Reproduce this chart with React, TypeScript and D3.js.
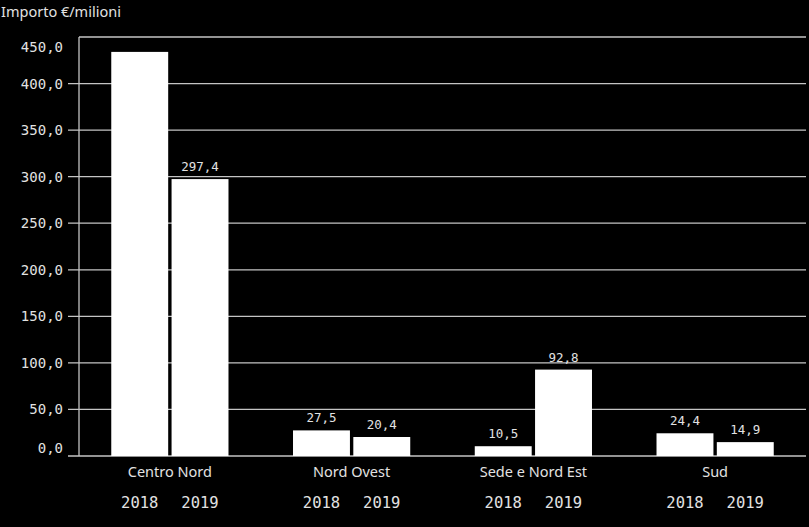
import React from "react";
import * as d3 from "d3";

const categories = ["Centro Nord", "Nord Ovest", "Sede e Nord Est", "Sud"];
const years = ["2018", "2019"];
const values2018 = [434.0, 27.5, 10.5, 24.4];
const values2019 = [297.4, 20.4, 92.8, 14.9];
const yTicks = [0, 50, 100, 150, 200, 250, 300, 350, 400, 450];
const yTitle = "Importo €/milioni";

const W = 809;
const H = 527;
const M = { left: 79, right: 3, top: 37, bottom: 71 };

const fmt = (v: number) => v.toFixed(1).replace(".", ",");

export default function App() {
  const y = d3.scaleLinear().domain([0, 450]).range([H - M.bottom, M.top]);
  const x0 = d3
    .scaleBand<string>()
    .domain(categories)
    .range([M.left, W - M.right])
    .paddingInner(0.355)
    .paddingOuter(0.1775);
  const x1 = d3
    .scaleBand<string>()
    .domain(years)
    .range([0, x0.bandwidth()])
    .paddingInner(0.056);

  const series = [values2018, values2019];
  const textColor = "#e2e2e2";
  const gridColor = "#c4c4c4";
  const mono = "'DejaVu Sans Mono', monospace";
  const sans = "'Noto Sans', 'Open Sans', sans-serif";

  return (
    <svg
      width={W}
      height={H}
      style={{ position: "absolute", left: 0, top: 0, background: "#000" }}
    >
      <rect x={0} y={0} width={W} height={H} fill="#000" />
      <text x={1} y={17} fill={textColor} fontFamily={sans} fontSize={14.5}>
        {yTitle}
      </text>
      {yTicks.map((t) => (
        <g key={t}>
          <line
            x1={t === 450 ? M.left : M.left - 11}
            x2={W - M.right}
            y1={y(t)}
            y2={y(t)}
            stroke={gridColor}
            strokeWidth={1.3}
          />
          <text
            x={M.left - 16}
            y={t === 450 ? y(t) + 15 : t === 0 ? y(t) - 3 : y(t) + 5}
            textAnchor="end"
            fill={textColor}
            fontFamily={mono}
            fontSize={14}
          >
            {fmt(t)}
          </text>
        </g>
      ))}
      <line
        x1={M.left}
        x2={M.left}
        y1={M.top}
        y2={y(0)}
        stroke={gridColor}
        strokeWidth={1.3}
      />
      {categories.map((c, i) => {
        const gx = x0(c)!;
        return (
          <g key={c}>
            {years.map((yr, j) => {
              const v = series[j][i];
              const bx = gx + x1(yr)!;
              const top = y(v);
              return (
                <g key={yr}>
                  <rect
                    x={bx}
                    y={top}
                    width={x1.bandwidth()}
                    height={y(0) - top}
                    fill="#ffffff"
                  />
                  {top - 10 > M.top + 12 && (
                    <text
                      x={bx + x1.bandwidth() / 2}
                      y={top - 8}
                      textAnchor="middle"
                      fill={textColor}
                      fontFamily={mono}
                      fontSize={12.5}
                    >
                      {fmt(v)}
                    </text>
                  )}
                  <text
                    x={bx + x1.bandwidth() / 2}
                    y={508}
                    textAnchor="middle"
                    fill={textColor}
                    fontFamily={mono}
                    fontSize={15.5}
                  >
                    {yr}
                  </text>
                </g>
              );
            })}
            <text
              x={gx + x0.bandwidth() / 2}
              y={477}
              textAnchor="middle"
              fill={textColor}
              fontFamily={sans}
              fontSize={14.5}
            >
              {c}
            </text>
          </g>
        );
      })}
    </svg>
  );
}
